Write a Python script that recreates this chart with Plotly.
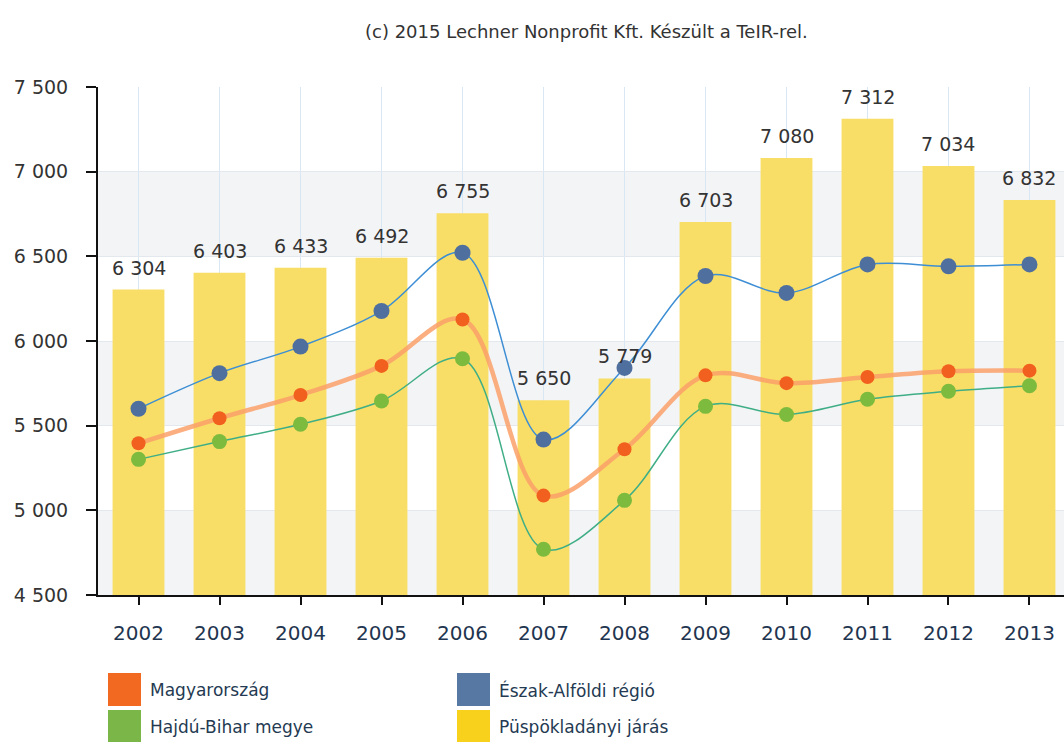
import plotly.graph_objects as go

years = ["2002", "2003", "2004", "2005", "2006", "2007",
         "2008", "2009", "2010", "2011", "2012", "2013"]

puspokladanyi = [6304, 6403, 6433, 6492, 6755, 5650, 5779, 6703, 7080, 7312, 7034, 6832]
eszak_alfoldi = [5600, 5810, 5967, 6177, 6521, 5418, 5841, 6384, 6284, 6452, 6441, 6452]
magyarorszag = [5396, 5544, 5681, 5853, 6127, 5087, 5361, 5797, 5751, 5787, 5821, 5825]
hajdu_bihar = [5301, 5406, 5508, 5646, 5895, 4770, 5059, 5614, 5566, 5656, 5703, 5736]

y_ticks = [4500, 5000, 5500, 6000, 6500, 7000, 7500]

W, H = 1064, 742
ML, MR, MT, MB = 98, 0, 87, 147
FONT = "DejaVu Sans"

fig = go.Figure()

fig.add_trace(go.Bar(
    x=years, y=puspokladanyi, name="Püspökladányi járás",
    marker=dict(color="#f8de66", line=dict(width=0)),
    width=0.64, hoverinfo="x+y",
))

fig.add_trace(go.Scatter(
    x=years, y=hajdu_bihar, name="Hajdú-Bihar megye", mode="lines+markers",
    line=dict(color="#3fae86", width=1.5, shape="spline", smoothing=1),
    marker=dict(color="#7dbb3f", size=15),
))
fig.add_trace(go.Scatter(
    x=years, y=magyarorszag, name="Magyarország", mode="lines+markers",
    line=dict(color="rgba(250,160,105,0.85)", width=4.5, shape="spline", smoothing=1),
    marker=dict(color="#f1601f", size=14),
))
fig.add_trace(go.Scatter(
    x=years, y=eszak_alfoldi, name="Észak-Alföldi régió", mode="lines+markers",
    line=dict(color="#3d8ed4", width=1.5, shape="spline", smoothing=1),
    marker=dict(color="#4f6f9f", size=16),
))

# value labels above the bars (category index positions)
for i, v in enumerate(puspokladanyi):
    fig.add_annotation(
        x=i, y=v, xref="x", yref="y",
        text=f"{v:,}".replace(",", " "), showarrow=False,
        yanchor="bottom", yshift=9,
        font=dict(family=FONT, size=19, color="#333333"),
    )

# alternating horizontal bands
for lo, hi in [(4500, 5000), (5500, 6000), (6500, 7000)]:
    fig.add_shape(type="rect", xref="paper", yref="y", x0=0, x1=1, y0=lo, y1=hi,
                  fillcolor="#f3f4f6", line=dict(width=0), layer="below")

# custom legend with large square swatches
pw = W - ML - MR
ph = H - MT - MB


def px_x(x):
    return (x - ML) / pw


def px_y(y):
    return (H - MB - y) / ph


legend_items = [
    ("Magyarország", "#f26a21", 108, 673),
    ("Észak-Alföldi régió", "#5678a2", 457, 673),
    ("Hajdú-Bihar megye", "#7ab648", 108, 710),
    ("Püspökladányi járás", "#f7d11c", 457, 710),
]
for label, color, lx, ly in legend_items:
    fig.add_shape(type="rect", xref="paper", yref="paper",
                  x0=px_x(lx), x1=px_x(lx + 33), y0=px_y(ly), y1=px_y(ly + 33),
                  fillcolor=color, line=dict(width=0))
    fig.add_annotation(xref="paper", yref="paper", x=px_x(lx + 40), y=px_y(ly + 17),
                       text=label, showarrow=False, xanchor="left", yanchor="middle",
                       font=dict(family=FONT, size=17, color="#243a52"))

fig.add_annotation(xref="paper", yref="paper", x=px_x(586), y=px_y(32),
                   text="(c) 2015 Lechner Nonprofit Kft. Készült a TeIR-rel.",
                   showarrow=False, xanchor="center", yanchor="middle",
                   font=dict(family=FONT, size=18, color="#333333"))

fig.update_layout(
    width=W, height=H,
    margin=dict(l=ML, r=MR, t=MT, b=MB, pad=0),
    paper_bgcolor="white", plot_bgcolor="white",
    showlegend=False,
    separators=". ",
    bargap=0.36,
    font=dict(family=FONT, color="#333333"),
    xaxis=dict(
        type="category", range=[-0.5, 11.426],
        showgrid=True, gridcolor="#d8e7f3", gridwidth=1,
        showline=True, linecolor="#111111", linewidth=2,
        ticks="outside", ticklen=8, tickcolor="#111111", tickwidth=2,
        tickfont=dict(family=FONT, size=20, color="#1f3550"),
        ticklabelstandoff=11,
        zeroline=False,
    ),
    yaxis=dict(
        range=[4500, 7500], tickvals=y_ticks, tickformat=",d",
        showgrid=True, gridcolor="#e2e8ee", gridwidth=1,
        showline=True, linecolor="#111111", linewidth=2,
        ticks="outside", ticklen=10, tickcolor="#111111", tickwidth=2,
        tickfont=dict(family=FONT, size=19, color="#333333"),
        ticklabelstandoff=14,
        zeroline=False,
    ),
)

fig.write_html("out.html")
